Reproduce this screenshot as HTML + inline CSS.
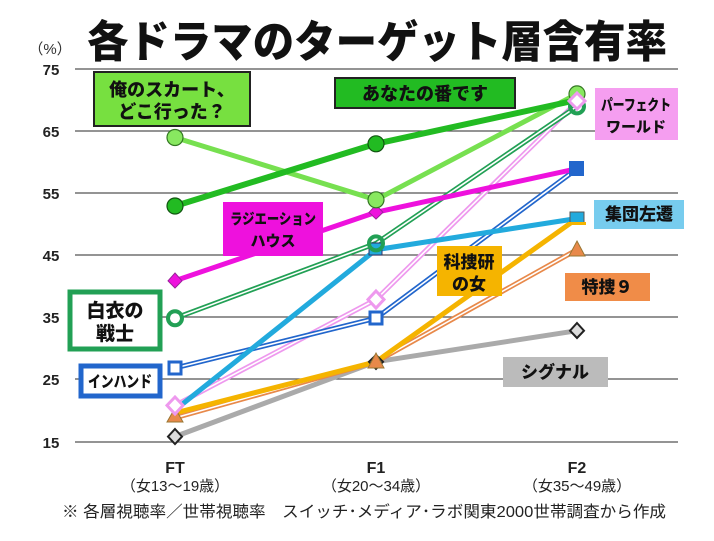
<!DOCTYPE html>
<html><head><meta charset="utf-8"><style>
body{margin:0;background:#fff;}
svg text{font-family:"Liberation Sans","Noto Sans CJK JP",sans-serif;}
</style></head><body>
<svg width="714" height="536" viewBox="0 0 714 536" xmlns="http://www.w3.org/2000/svg">
<rect width="714" height="536" fill="#fff"/>
<text x="377" y="57" text-anchor="middle" font-size="44" font-weight="900" fill="#111" textLength="580" lengthAdjust="spacingAndGlyphs">各ドラマのターゲット層含有率</text>
<text x="50" y="54" text-anchor="middle" font-size="15" fill="#333">（%）</text>
<g stroke="#555" stroke-width="1.2">
<line x1="75" y1="69" x2="678" y2="69"/><line x1="75" y1="131" x2="678" y2="131"/>
<line x1="75" y1="193" x2="678" y2="193"/><line x1="75" y1="255" x2="678" y2="255"/>
<line x1="75" y1="317" x2="678" y2="317"/><line x1="75" y1="379" x2="678" y2="379"/>
<line x1="75" y1="442" x2="678" y2="442"/>
</g>
<g font-size="15" fill="#222" text-anchor="middle" font-weight="bold">
<text x="51" y="75">75</text><text x="51" y="137">65</text><text x="51" y="199">55</text>
<text x="51" y="261">45</text><text x="51" y="323">35</text><text x="51" y="385">25</text><text x="51" y="448">15</text>
</g>
<g fill="none" stroke-linecap="round" stroke-linejoin="round">
<polyline points="175,436.6 376,361.8 577,330.7" stroke="#aaa" stroke-width="5"/>
<polyline points="175,417.9 376,361.8 577,249.7" stroke="#e8894a" stroke-width="5"/>
<polyline points="175,417.9 376,361.8 577,249.7" stroke="#fff" stroke-width="1.6"/>
<polyline points="175,413 376,361.8 577,218.5" stroke="#f5b400" stroke-width="5"/>
<polyline points="175,405.4 376,299.5 577,102" stroke="#ee99ee" stroke-width="5"/>
<polyline points="175,405.4 376,299.5 577,102" stroke="#fff" stroke-width="1.6"/>
<polyline points="175,368 376,318.2 577,168.7" stroke="#2266cc" stroke-width="5"/>
<polyline points="175,368 376,318.2 577,168.7" stroke="#fff" stroke-width="1.6"/>
<polyline points="175,410 376,249.7 577,218.5" stroke="#22aadd" stroke-width="5"/>
<polyline points="175,318.2 376,243.4 577,106.4" stroke="#22a055" stroke-width="5"/>
<polyline points="175,318.2 376,243.4 577,106.4" stroke="#fff" stroke-width="1.6"/>
<polyline points="175,280.8 376,212.3 577,168.7" stroke="#ee11dd" stroke-width="5"/>
<polyline points="175,137.5 376,199.8 577,93.9" stroke="#77e050" stroke-width="5"/>
<polyline points="175,206 376,143.8 577,100" stroke="#22bb22" stroke-width="6"/>
</g>
<g stroke-width="2">
<path d="M175,429 L182,436.6 L175,444 L168,436.6Z" fill="#ddd" stroke="#222"/>
<path d="M376,355 L383,361.8 L376,369 L369,361.8Z" fill="#ddd" stroke="#222"/>
<path d="M577,323 L584,330.7 L577,338 L570,330.7Z" fill="#ddd" stroke="#222"/>
<path d="M175,408 L183,422 L167,422Z" fill="#e8894a" stroke="#997733" stroke-width="1"/>
<path d="M376,353 L384,368 L368,368Z" fill="#e8894a" stroke="#997733" stroke-width="1"/>
<path d="M577,241 L585,256 L569,256Z" fill="#e8894a" stroke="#997733" stroke-width="1"/>
<rect x="570" y="212" width="14" height="11" fill="#22aadd" stroke="#555" stroke-width="1"/>
<rect x="568" y="222" width="18" height="3" fill="#f5b400"/>
<rect x="369" y="243" width="13" height="12" fill="#22aadd" stroke="#336" stroke-width="1"/>
<rect x="169" y="362" width="12" height="12" fill="#fff" stroke="#2266cc" stroke-width="3"/>
<rect x="370" y="312" width="12" height="12" fill="#fff" stroke="#2266cc" stroke-width="3"/>
<rect x="570" y="162" width="13" height="13" fill="#2266cc" stroke="#2266cc" stroke-width="2"/>
<path d="M175,397 L183,405.4 L175,414 L167,405.4Z" fill="#fff" stroke="#ee99ee" stroke-width="3"/>
<path d="M376,291 L384,299.5 L376,308 L368,299.5Z" fill="#fff" stroke="#ee99ee" stroke-width="3"/>
<circle cx="175" cy="318.2" r="7" fill="#fff" stroke="#22a055" stroke-width="4"/>
<circle cx="376" cy="243.4" r="7" fill="none" stroke="#22a055" stroke-width="4"/>
<circle cx="577" cy="106.4" r="7" fill="none" stroke="#22a055" stroke-width="4"/>
<path d="M175,273 L182,280.8 L175,288 L168,280.8Z" fill="#ee11dd" stroke="#992299" stroke-width="1"/>
<path d="M376,205 L383,212.3 L376,219 L369,212.3Z" fill="#ee11dd" stroke="#992299" stroke-width="1"/>
<circle cx="175" cy="137.5" r="8" fill="#88e860" stroke="#337722" stroke-width="1.2"/>
<circle cx="376" cy="199.8" r="8" fill="#88e860" stroke="#337722" stroke-width="1.2"/>
<circle cx="577" cy="93.9" r="8" fill="#88e860" stroke="#337722" stroke-width="1.2"/>
<circle cx="175" cy="206" r="8" fill="#22bb22" stroke="#115511" stroke-width="1.2"/>
<circle cx="376" cy="143.8" r="8" fill="#22bb22" stroke="#115511" stroke-width="1.2"/>
<path d="M577,93 L585,101 L577,109 L569,101Z" fill="#fff" stroke="#ee99ee" stroke-width="3"/>
</g>
<g font-weight="900" fill="#111" text-anchor="middle">
<rect x="94" y="72" width="156" height="54" fill="#77e040" stroke="#222" stroke-width="2"/>
<text x="172" y="96" font-size="18">俺のスカート、</text><text x="172" y="118" font-size="18">どこ行った？</text>
<rect x="335" y="78" width="180" height="30" fill="#22bb22" stroke="#222" stroke-width="2"/>
<text x="425" y="100" font-size="18">あなたの番です</text>
<rect x="595" y="88" width="83" height="52" fill="#f59ef0"/>
<text x="636" y="110" font-size="15" textLength="70" lengthAdjust="spacingAndGlyphs">パーフェクト</text><text x="636" y="132" font-size="15">ワールド</text>
<rect x="223" y="202" width="100" height="54" fill="#ee11dd"/>
<text x="273" y="224" font-size="15" textLength="86" lengthAdjust="spacingAndGlyphs">ラジエーション</text><text x="273" y="246" font-size="15">ハウス</text>
<rect x="594" y="200" width="90" height="29" fill="#77ccee"/>
<text x="639" y="220" font-size="17">集団左遷</text>
<rect x="437" y="246" width="65" height="50" fill="#f5b400"/>
<text x="469" y="268" font-size="17">科捜研</text><text x="469" y="290" font-size="17">の女</text>
<rect x="565" y="273" width="85" height="28" fill="#f08c48"/>
<text x="607" y="293" font-size="17">特捜９</text>
<rect x="503" y="357" width="105" height="30" fill="#bbb"/>
<text x="555" y="378" font-size="17">シグナル</text>
<rect x="70" y="292" width="90" height="57" fill="#fff" stroke="#22a055" stroke-width="5"/>
<text x="115" y="317" font-size="19">白衣の</text><text x="115" y="340" font-size="19">戦士</text>
<rect x="81" y="366" width="79" height="30" fill="#fff" stroke="#2266cc" stroke-width="5"/>
<text x="120" y="387" font-size="16" textLength="64" lengthAdjust="spacingAndGlyphs">インハンド</text>
</g>
<g text-anchor="middle" fill="#222">
<text x="175" y="473" font-size="16" font-weight="bold">FT</text>
<text x="175" y="491" font-size="15">（女13～19歳）</text>
<text x="376" y="473" font-size="16" font-weight="bold">F1</text>
<text x="376" y="491" font-size="15">（女20～34歳）</text>
<text x="577" y="473" font-size="16" font-weight="bold">F2</text>
<text x="577" y="491" font-size="15">（女35～49歳）</text>
</g>
<text x="62" y="517" font-size="16" fill="#222" textLength="604" lengthAdjust="spacingAndGlyphs">※ 各層視聴率／世帯視聴率　スイッチ･メディア･ラボ関東2000世帯調査から作成</text>
</svg>
</body></html>
